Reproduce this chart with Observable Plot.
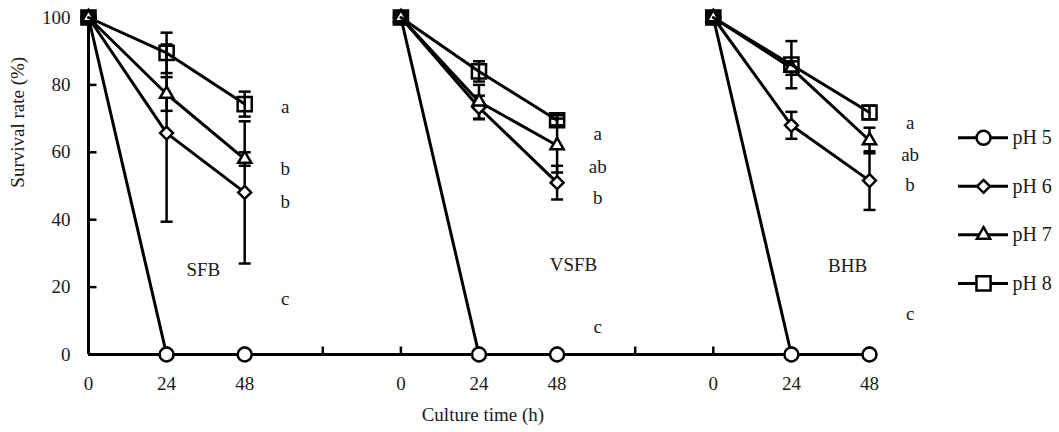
<!DOCTYPE html>
<html>
<head>
<meta charset="utf-8">
<script src="https://cdn.jsdelivr.net/npm/d3@7"></script>
<script src="https://cdn.jsdelivr.net/npm/@observablehq/plot@0.6"></script>
<style>
  html, body { margin: 0; padding: 0; background: #fff; }
  #chart svg { display: block; }
</style>
</head>
<body>
<div id="chart"></div>
<script>
// ---- data ----
const panels = ["SFB", "VSFB", "BHB"];
const times = [0, 24, 48];
const series = ["pH 5", "pH 6", "pH 7", "pH 8"];
const xTickLabels = ["0", "24", "48", "", "0", "24", "48", "", "0", "24", "48"];
const yTicks = [0, 20, 40, 60, 80, 100];

// mean survival (%) per series (pH5, pH6, pH7, pH8) at 0, 24, 48 h
const meanSFB  = [[100, 0, 0], [100, 65.7, 48.1], [100, 77.3, 58.0], [100, 89.5, 74.3]];
const sdSFB    = [[0, 0, 0],   [0, 26.3, 21.1],   [0, 5.0, 2.0],     [0, 6.0, 3.7]];
const meanVSFB = [[100, 0, 0], [100, 73.3, 51.0], [100, 75.0, 62.0], [100, 84.0, 69.5]];
const sdVSFB   = [[0, 0, 0],   [0, 3.5, 5.0],     [0, 5.0, 8.0],     [0, 3.0, 1.5]];
const meanBHB  = [[100, 0, 0], [100, 68.0, 51.6], [100, 85.0, 63.5], [100, 86.0, 71.8]];
const sdBHB    = [[0, 0, 0],   [0, 4.0, 8.7],     [0, 2.0, 3.8],     [0, 7.0, 2.0]];

// significance letters (per panel, for pH8, pH7, pH6, pH5) and where they sit
const lettersSFB  = ["a", "b", "b", "c"];
const lettersVSFB = ["a", "ab", "b", "c"];
const lettersBHB  = ["a", "ab", "b", "c"];
const letterYSFB  = [73.5, 55.1, 45.3, 16.6];
const letterYVSFB = [65.5, 55.7, 46.5, 8.3];
const letterYBHB  = [68.7, 59.3, 50.4, 12.1];

// ---- build tables ----
const means = [meanSFB, meanVSFB, meanBHB];
const sds = [sdSFB, sdVSFB, sdBHB];
const rows = [];
panels.forEach((p, pi) => {
  series.forEach((s, si) => {
    times.forEach((t, ti) => {
      rows.push({panel: p, series: s, si, x: pi * 4 + ti, time: t,
                 y: means[pi][si][ti], sd: sds[pi][si][ti], key: p + s});
    });
  });
});
const letterRows = [];
[[lettersSFB, letterYSFB], [lettersVSFB, letterYVSFB], [lettersBHB, letterYBHB]].forEach(([L, Y], pi) => {
  L.forEach((l, i) => letterRows.push({x: pi * 4 + 2.52, y: Y[i], text: l}));
});
const panelLabelRows = [
  {x: 1.47, y: 25.2, text: panels[0]},
  {x: 6.21, y: 26.7, text: panels[1]},
  {x: 9.72, y: 26.4, text: panels[2]}
];

const symbols = ["circle", "diamond2", "triangle2", "square2"];
const radii = [7, 5.8, 6.3, 9];
const fills = ["white", "white", "white", "none"];
const legendRows = series.map((s, i) => ({series: s, i, y: 64.3 - i * 14.4}));

const font = "'Liberation Serif', 'Times New Roman', serif";
const fs = 19;
const ink = "#1a1a1a";
const sw = 3;

const capSymbol = {draw(ctx) { ctx.moveTo(-6, 0); ctx.lineTo(6, 0); }};
const yTickSymbol = {draw(ctx) { ctx.moveTo(0, 0); ctx.lineTo(8, 0); }};
const xTickSymbol = {draw(ctx) { ctx.moveTo(0, 0); ctx.lineTo(0, -8); }};

const errRows = rows.filter(d => d.sd > 0);
const capRows = errRows.flatMap(d => [{x: d.x, y: d.y + d.sd}, {x: d.x, y: d.y - d.sd}]);

const marks = [
  // axes lines
  Plot.ruleY([0], {x1: 0, x2: 10, stroke: "black", strokeWidth: sw}),
  Plot.ruleX([0], {y1: 0, y2: 100, stroke: "black", strokeWidth: sw}),
  Plot.dot(yTicks.filter(v => v > 0), {x: 0, y: d => d, symbol: yTickSymbol, r: 1, stroke: "black", strokeWidth: 2.5}),
  Plot.dot(d3.range(1, 11), {x: d => d, y: 0, symbol: xTickSymbol, r: 1, stroke: "black", strokeWidth: 2.5}),
  Plot.axisX({ticks: d3.range(0, 11), tickFormat: i => xTickLabels[i], tickSize: 0, tickPadding: 21.5, label: null, fontSize: fs, fill: ink}),
  Plot.axisY({ticks: yTicks, tickSize: 0, tickPadding: 18, label: null, fontSize: fs, fill: ink}),
  // error bars
  Plot.ruleX(errRows, {x: "x", y1: d => d.y - d.sd, y2: d => d.y + d.sd, stroke: "black", strokeWidth: 2.5}),
  Plot.dot(capRows, {x: "x", y: "y", symbol: capSymbol, r: 1, stroke: "black", strokeWidth: 2.5})
];
series.forEach((s, si) => {
  const data = rows.filter(d => d.si === si);
  marks.push(Plot.line(data, {x: "x", y: "y", z: "key", stroke: "black", strokeWidth: sw}));
  marks.push(Plot.dot(data, {x: "x", y: "y", symbol: symbols[si], r: radii[si], fill: fills[si], stroke: "black", strokeWidth: 2.5}));
});
// legend
legendRows.forEach(d => {
  marks.push(Plot.ruleY([d], {x1: 11.14, x2: 11.78, y: "y", stroke: "black", strokeWidth: sw}));
  marks.push(Plot.dot([d], {x: 11.46, y: "y", symbol: symbols[d.i], r: radii[d.i], fill: "white", stroke: "black", strokeWidth: 2.5}));
  marks.push(Plot.text([d], {x: 11.83, y: "y", text: "series", textAnchor: "start", fontSize: 20, fill: ink}));
});
marks.push(
  Plot.text(letterRows, {x: "x", y: "y", text: "text", textAnchor: "middle", fontSize: fs, fill: ink}),
  Plot.text(panelLabelRows, {x: "x", y: "y", text: "text", textAnchor: "middle", fontSize: fs, fill: ink}),
  Plot.text(["Survival rate (%)"], {frameAnchor: "left", y: 49.5, dx: -71, rotate: -90, fontSize: fs, fill: ink}),
  Plot.text(["Culture time (h)"], {frameAnchor: "bottom", x: 5.05, dy: 66, fontSize: fs, fill: ink})
);

const chart = Plot.plot({
  width: 1059,
  height: 432,
  marginLeft: 88,
  marginRight: 190,
  marginTop: 17,
  marginBottom: 78,
  x: {domain: [0, 10]},
  y: {domain: [0, 100]},
  style: {fontFamily: font, fontSize: fs + "px", color: "black", background: "white", overflow: "visible"},
  marks
});
document.getElementById("chart").appendChild(chart);
</script>
</body>
</html>
